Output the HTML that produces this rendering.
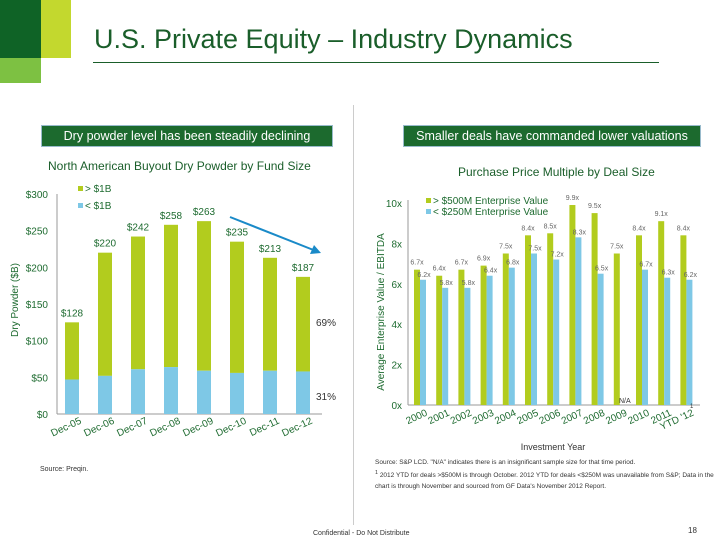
<!DOCTYPE html>
<html><head><meta charset="utf-8"><style>
body{margin:0;width:720px;height:540px;background:#fff;overflow:hidden;font-family:"Liberation Sans",sans-serif;position:relative}
.abs{position:absolute}
.box{background:#1c6a2e;color:#fff;font-size:12.5px;text-align:center;line-height:20px;border:1px solid #9bc;}
</style></head><body>
<div class="abs" style="left:0;top:0;width:41px;height:58px;background:#0f6326"></div>
<div class="abs" style="left:41px;top:0;width:30px;height:58px;background:#c3d82e"></div>
<div class="abs" style="left:0;top:58px;width:41px;height:25px;background:#7dc142"></div>
<div class="abs" style="left:94px;top:24px;font-size:27px;color:#1a5e2a;white-space:nowrap">U.S. Private Equity – Industry Dynamics</div>
<div class="abs" style="left:93px;top:62px;width:566px;height:1px;background:#1a5e2a"></div>
<div class="abs" style="left:353px;top:105px;width:1px;height:420px;background:#ccc"></div>
<div class="abs box" style="left:41px;top:125px;width:290px;height:20px">Dry powder level has been steadily declining</div>
<div class="abs box" style="left:403px;top:125px;width:296px;height:20px">Smaller deals have commanded lower valuations</div>
<div class="abs" style="left:48px;top:159px;font-size:12px;color:#1a5e2a;white-space:nowrap">North American Buyout Dry Powder by Fund Size</div>
<div class="abs" style="left:458px;top:165px;font-size:12px;color:#1a5e2a;white-space:nowrap">Purchase Price Multiple by Deal Size</div>

<svg class="abs" style="left:0;top:0" width="720" height="540" id="svg"></svg>

<div class="abs" style="left:40px;top:466px;font-size:7px;color:#333">Source: Preqin.</div>
<div class="abs" style="left:375px;top:457px;width:340px;font-size:6.5px;line-height:11px;color:#333">Source: S&amp;P LCD. "N/A" indicates there is an insignificant sample size for that time period.<br><sup>1</sup> 2012 YTD for deals &gt;$500M is through October. 2012 YTD for deals &lt;$250M was unavailable from S&amp;P; Data in the chart is through November and sourced from GF Data's November 2012 Report.</div>
<div class="abs" style="left:313px;top:530px;font-size:7px;color:#333">Confidential - Do Not Distribute</div>
<div class="abs" style="left:688px;top:526px;font-size:8px;color:#333">18</div>

<script>
const dpCategories=["Dec-05","Dec-06","Dec-07","Dec-08","Dec-09","Dec-10","Dec-11","Dec-12"];
const dpSmall=[47,52,61,64,59,56,59,58];
const dpTotal=[125,220,242,258,263,235,213,187];
const dpLabels=["$128","$220","$242","$258","$263","$235","$213","$187"];
const dpTicks=[0,50,100,150,200,250,300];
const ppmYears=["2000","2001","2002","2003","2004","2005","2006","2007","2008","2009","2010","2011","YTD '12"];
const ppmLarge=[6.7,6.4,6.7,6.9,7.5,8.4,8.5,9.9,9.5,7.5,8.4,9.1,8.4];
const ppmSmall=[6.2,5.8,5.8,6.4,6.8,7.5,7.2,8.3,6.5,null,6.7,6.3,6.2];
const ppmTicks=[0,2,4,6,8,10];

const svg=document.getElementById('svg');const NS='http://www.w3.org/2000/svg';
function mk(t,a,txt){const e=document.createElementNS(NS,t);for(const k in a)e.setAttribute(k,a[k]);if(txt!==undefined)e.textContent=txt;svg.appendChild(e);return e;}
const G='#b2cc1e',B='#7ec8e6',TC='#1e6b30';
// left chart
const ly=v=>414-v*220/300, lx=i=>72+i*33;
mk('line',{x1:57,y1:414,x2:322,y2:414,stroke:'#999'});
mk('line',{x1:57,y1:194,x2:57,y2:414,stroke:'#999'});
dpTicks.forEach(t=>{let e=mk('text',{x:48,y:ly(t)+4,'text-anchor':'end','font-size':10,fill:TC},'$'+t);});
dpCategories.forEach((c,i)=>{
 let g=mk('rect',{x:lx(i)-7,y:ly(dpTotal[i]),width:14,height:ly(dpSmall[i])-ly(dpTotal[i]),fill:G});
 
 let b=mk('rect',{x:lx(i)-7,y:ly(dpSmall[i]),width:14,height:414-ly(dpSmall[i]),fill:B});
 
 let l=mk('text',{x:lx(i),y:ly(dpTotal[i])-6,'text-anchor':'middle','font-size':10,fill:TC},dpLabels[i]);
 
 let x=mk('text',{x:lx(i)+10,y:423,'text-anchor':'end','font-size':10,fill:TC,transform:`rotate(-25 ${lx(i)+10} 423)`},c);
 
});
let yt=mk('text',{x:18,y:300,'text-anchor':'middle','font-size':10,fill:TC,transform:'rotate(-90 18 300)'},'Dry Powder ($B)');

mk('rect',{x:78,y:186,width:5,height:5,fill:G});mk('text',{x:85,y:192,'font-size':10,fill:TC},'> $1B');
mk('rect',{x:78,y:203,width:5,height:5,fill:B});mk('text',{x:85,y:209,'font-size':10,fill:TC},'< $1B');
mk('text',{x:316,y:326,'font-size':10,fill:'#333'},'69%');
mk('text',{x:316,y:400,'font-size':10,fill:'#333'},'31%');
let ar=mk('line',{x1:230,y1:217,x2:316,y2:251,stroke:'#1a8ac8','stroke-width':2});

mk('polygon',{points:'321,253 310,254 314,245',fill:'#1a8ac8'});
// right chart
const ry=v=>405-v*20.2, rx=i=>420+i*22.2;
mk('line',{x1:408,y1:405,x2:700,y2:405,stroke:'#999'});
mk('line',{x1:408,y1:200,x2:408,y2:405,stroke:'#999'});
ppmTicks.forEach(t=>{let e=mk('text',{x:402,y:ry(t)+4,'text-anchor':'end','font-size':10,fill:TC},t+'x');});
ppmYears.forEach((c,i)=>{
 let g=mk('rect',{x:rx(i)-6,y:ry(ppmLarge[i]),width:6,height:405-ry(ppmLarge[i]),fill:G});
 
 mk('text',{x:rx(i)-3,y:ry(ppmLarge[i])-5,'text-anchor':'middle','font-size':7,fill:'#666'},ppmLarge[i].toFixed(1)+'x');
 if(ppmSmall[i]!==null){
  let b=mk('rect',{x:rx(i),y:ry(ppmSmall[i]),width:6,height:405-ry(ppmSmall[i]),fill:B});
  
  mk('text',{x:rx(i)+4,y:ry(ppmSmall[i])-3,'text-anchor':'middle','font-size':7,fill:'#666'},ppmSmall[i].toFixed(1)+'x');
 } else mk('text',{x:rx(i)+5,y:403,'text-anchor':'middle','font-size':7,fill:'#333'},'N/A');
 let x=mk('text',{x:rx(i)+8,y:415,'text-anchor':'end','font-size':10,fill:TC,transform:`rotate(-25 ${rx(i)+8} 415)`},c);
 
});
mk('text',{x:690,y:408,'font-size':6,fill:'#333'},'1');
let yt2=mk('text',{x:384,y:312,'text-anchor':'middle','font-size':10,fill:TC,transform:'rotate(-90 384 312)'},'Average Enterprise Value / EBITDA');

let xt=mk('text',{x:553,y:450,'text-anchor':'middle','font-size':9,fill:'#333'},'Investment Year');

mk('rect',{x:426,y:198,width:5,height:5,fill:G});mk('text',{x:433,y:204,'font-size':10,fill:TC},'> $500M Enterprise Value');
mk('rect',{x:426,y:209,width:5,height:5,fill:B});mk('text',{x:433,y:215,'font-size':10,fill:TC},'< $250M Enterprise Value');
</script>
</body></html>
